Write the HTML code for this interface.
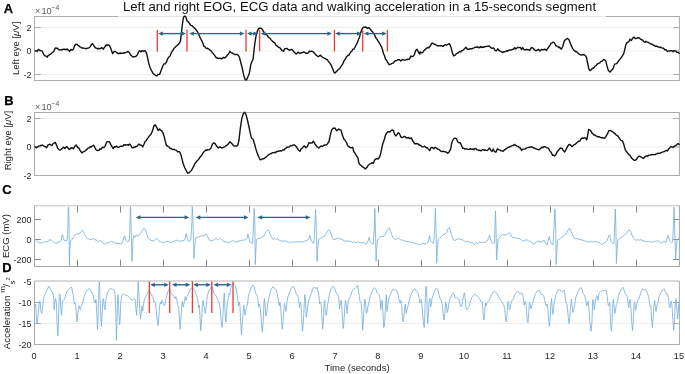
<!DOCTYPE html>
<html><head><meta charset="utf-8"><title>EOG ECG figure</title>
<style>html,body{margin:0;padding:0;background:#fff;}svg{display:block;}text{font-family:'Liberation Sans', Arial, sans-serif;}</style>
</head><body>
<svg width="685" height="374" viewBox="0 0 685 374" font-family="'Liberation Sans', Arial, sans-serif">
<rect width="685" height="374" fill="#fff"/>
<line x1="34.5" y1="27.5" x2="679.4" y2="27.5" stroke="#efefef" stroke-width="1"/>
<line x1="34.5" y1="51.0" x2="679.4" y2="51.0" stroke="#efefef" stroke-width="1"/>
<line x1="34.5" y1="74.5" x2="679.4" y2="74.5" stroke="#efefef" stroke-width="1"/>
<line x1="34.5" y1="27.5" x2="40.8" y2="27.5" stroke="#ababab" stroke-width="1"/>
<line x1="679.4" y1="27.5" x2="673.1" y2="27.5" stroke="#ababab" stroke-width="1"/>
<line x1="34.5" y1="51.0" x2="40.8" y2="51.0" stroke="#ababab" stroke-width="1"/>
<line x1="679.4" y1="51.0" x2="673.1" y2="51.0" stroke="#ababab" stroke-width="1"/>
<line x1="34.5" y1="74.5" x2="40.8" y2="74.5" stroke="#ababab" stroke-width="1"/>
<line x1="679.4" y1="74.5" x2="673.1" y2="74.5" stroke="#ababab" stroke-width="1"/>
<line x1="34.5" y1="16.0" x2="34.5" y2="81.0" stroke="#ababab" stroke-width="1"/>
<line x1="679.4" y1="16.0" x2="679.4" y2="81.0" stroke="#ababab" stroke-width="1"/>
<line x1="34.5" y1="80.5" x2="679.4" y2="80.5" stroke="#ababab" stroke-width="1"/>
<line x1="34.5" y1="16.5" x2="118" y2="16.5" stroke="#ababab" stroke-width="1"/>
<line x1="118" y1="16.5" x2="606" y2="16.5" stroke="#e4e4e4" stroke-width="1"/>
<line x1="606" y1="16.5" x2="679.4" y2="16.5" stroke="#ababab" stroke-width="1"/>
<text x="31.5" y="30.7" text-anchor="end" font-size="9" fill="#262626">2</text>
<text x="31.5" y="54.2" text-anchor="end" font-size="9" fill="#262626">0</text>
<text x="31.5" y="77.7" text-anchor="end" font-size="9" fill="#262626">-2</text>
<line x1="34.5" y1="118.5" x2="679.4" y2="118.5" stroke="#efefef" stroke-width="1"/>
<line x1="34.5" y1="147.0" x2="679.4" y2="147.0" stroke="#efefef" stroke-width="1"/>
<line x1="34.5" y1="118.5" x2="40.8" y2="118.5" stroke="#ababab" stroke-width="1"/>
<line x1="679.4" y1="118.5" x2="673.1" y2="118.5" stroke="#ababab" stroke-width="1"/>
<line x1="34.5" y1="147.0" x2="40.8" y2="147.0" stroke="#ababab" stroke-width="1"/>
<line x1="679.4" y1="147.0" x2="673.1" y2="147.0" stroke="#ababab" stroke-width="1"/>
<line x1="34.5" y1="112.0" x2="34.5" y2="176.0" stroke="#ababab" stroke-width="1"/>
<line x1="679.4" y1="112.0" x2="679.4" y2="176.0" stroke="#ababab" stroke-width="1"/>
<line x1="34.5" y1="175.5" x2="679.4" y2="175.5" stroke="#ababab" stroke-width="1"/>
<line x1="34.5" y1="112.5" x2="679.4" y2="112.5" stroke="#ababab" stroke-width="1"/>
<text x="31.5" y="121.7" text-anchor="end" font-size="9" fill="#262626">2</text>
<text x="31.5" y="150.2" text-anchor="end" font-size="9" fill="#262626">0</text>
<text x="31.5" y="178.7" text-anchor="end" font-size="9" fill="#262626">-2</text>
<line x1="34.5" y1="219.5" x2="40.8" y2="219.5" stroke="#888" stroke-width="1"/>
<line x1="679.4" y1="219.5" x2="673.1" y2="219.5" stroke="#888" stroke-width="1"/>
<line x1="34.5" y1="239.5" x2="40.8" y2="239.5" stroke="#888" stroke-width="1"/>
<line x1="679.4" y1="239.5" x2="673.1" y2="239.5" stroke="#888" stroke-width="1"/>
<line x1="34.5" y1="259.5" x2="40.8" y2="259.5" stroke="#888" stroke-width="1"/>
<line x1="679.4" y1="259.5" x2="673.1" y2="259.5" stroke="#888" stroke-width="1"/>
<line x1="77.5" y1="205.8" x2="77.5" y2="212.60000000000002" stroke="#888" stroke-width="1"/>
<line x1="77.5" y1="266.5" x2="77.5" y2="259.7" stroke="#888" stroke-width="1"/>
<line x1="120.5" y1="205.8" x2="120.5" y2="212.60000000000002" stroke="#888" stroke-width="1"/>
<line x1="120.5" y1="266.5" x2="120.5" y2="259.7" stroke="#888" stroke-width="1"/>
<line x1="163.5" y1="205.8" x2="163.5" y2="212.60000000000002" stroke="#888" stroke-width="1"/>
<line x1="163.5" y1="266.5" x2="163.5" y2="259.7" stroke="#888" stroke-width="1"/>
<line x1="206.5" y1="205.8" x2="206.5" y2="212.60000000000002" stroke="#888" stroke-width="1"/>
<line x1="206.5" y1="266.5" x2="206.5" y2="259.7" stroke="#888" stroke-width="1"/>
<line x1="249.5" y1="205.8" x2="249.5" y2="212.60000000000002" stroke="#888" stroke-width="1"/>
<line x1="249.5" y1="266.5" x2="249.5" y2="259.7" stroke="#888" stroke-width="1"/>
<line x1="292.5" y1="205.8" x2="292.5" y2="212.60000000000002" stroke="#888" stroke-width="1"/>
<line x1="292.5" y1="266.5" x2="292.5" y2="259.7" stroke="#888" stroke-width="1"/>
<line x1="335.5" y1="205.8" x2="335.5" y2="212.60000000000002" stroke="#888" stroke-width="1"/>
<line x1="335.5" y1="266.5" x2="335.5" y2="259.7" stroke="#888" stroke-width="1"/>
<line x1="378.5" y1="205.8" x2="378.5" y2="212.60000000000002" stroke="#888" stroke-width="1"/>
<line x1="378.5" y1="266.5" x2="378.5" y2="259.7" stroke="#888" stroke-width="1"/>
<line x1="421.5" y1="205.8" x2="421.5" y2="212.60000000000002" stroke="#888" stroke-width="1"/>
<line x1="421.5" y1="266.5" x2="421.5" y2="259.7" stroke="#888" stroke-width="1"/>
<line x1="464.5" y1="205.8" x2="464.5" y2="212.60000000000002" stroke="#888" stroke-width="1"/>
<line x1="464.5" y1="266.5" x2="464.5" y2="259.7" stroke="#888" stroke-width="1"/>
<line x1="507.5" y1="205.8" x2="507.5" y2="212.60000000000002" stroke="#888" stroke-width="1"/>
<line x1="507.5" y1="266.5" x2="507.5" y2="259.7" stroke="#888" stroke-width="1"/>
<line x1="550.5" y1="205.8" x2="550.5" y2="212.60000000000002" stroke="#888" stroke-width="1"/>
<line x1="550.5" y1="266.5" x2="550.5" y2="259.7" stroke="#888" stroke-width="1"/>
<line x1="593.5" y1="205.8" x2="593.5" y2="212.60000000000002" stroke="#888" stroke-width="1"/>
<line x1="593.5" y1="266.5" x2="593.5" y2="259.7" stroke="#888" stroke-width="1"/>
<line x1="636.5" y1="205.8" x2="636.5" y2="212.60000000000002" stroke="#888" stroke-width="1"/>
<line x1="636.5" y1="266.5" x2="636.5" y2="259.7" stroke="#888" stroke-width="1"/>
<line x1="34.5" y1="205.3" x2="34.5" y2="267.0" stroke="#a6a6a6" stroke-width="1"/>
<line x1="679.4" y1="205.3" x2="679.4" y2="267.0" stroke="#a6a6a6" stroke-width="1"/>
<line x1="34.5" y1="266.5" x2="679.4" y2="266.5" stroke="#a6a6a6" stroke-width="1"/>
<line x1="34.5" y1="205.8" x2="679.4" y2="205.8" stroke="#c4c4c4" stroke-width="1"/>
<text x="31.5" y="222.7" text-anchor="end" font-size="9" fill="#262626">200</text>
<text x="31.5" y="242.7" text-anchor="end" font-size="9" fill="#262626">0</text>
<text x="31.5" y="262.7" text-anchor="end" font-size="9" fill="#262626">-200</text>
<line x1="34.5" y1="302.5" x2="679.4" y2="302.5" stroke="#efefef" stroke-width="1"/>
<line x1="34.5" y1="323.5" x2="679.4" y2="323.5" stroke="#efefef" stroke-width="1"/>
<line x1="34.5" y1="302.5" x2="40.8" y2="302.5" stroke="#ababab" stroke-width="1"/>
<line x1="679.4" y1="302.5" x2="673.1" y2="302.5" stroke="#ababab" stroke-width="1"/>
<line x1="34.5" y1="323.5" x2="40.8" y2="323.5" stroke="#ababab" stroke-width="1"/>
<line x1="679.4" y1="323.5" x2="673.1" y2="323.5" stroke="#ababab" stroke-width="1"/>
<line x1="34.5" y1="281.0" x2="34.5" y2="345.0" stroke="#ababab" stroke-width="1"/>
<line x1="679.4" y1="281.0" x2="679.4" y2="345.0" stroke="#ababab" stroke-width="1"/>
<line x1="34.5" y1="344.5" x2="679.4" y2="344.5" stroke="#ababab" stroke-width="1"/>
<line x1="34.5" y1="281.0" x2="679.4" y2="281.0" stroke="#b4b4b4" stroke-width="1"/>
<text x="31.5" y="284.7" text-anchor="end" font-size="9" fill="#262626">-5</text>
<text x="31.5" y="305.7" text-anchor="end" font-size="9" fill="#262626">-10</text>
<text x="31.5" y="326.7" text-anchor="end" font-size="9" fill="#262626">-15</text>
<text x="31.5" y="347.7" text-anchor="end" font-size="9" fill="#262626">-20</text>
<text x="34.0" y="358.8" text-anchor="middle" font-size="9.2" fill="#262626">0</text>
<text x="77.0" y="358.8" text-anchor="middle" font-size="9.2" fill="#262626">1</text>
<text x="120.0" y="358.8" text-anchor="middle" font-size="9.2" fill="#262626">2</text>
<text x="163.0" y="358.8" text-anchor="middle" font-size="9.2" fill="#262626">3</text>
<text x="206.0" y="358.8" text-anchor="middle" font-size="9.2" fill="#262626">4</text>
<text x="249.0" y="358.8" text-anchor="middle" font-size="9.2" fill="#262626">5</text>
<text x="292.0" y="358.8" text-anchor="middle" font-size="9.2" fill="#262626">6</text>
<text x="335.0" y="358.8" text-anchor="middle" font-size="9.2" fill="#262626">7</text>
<text x="377.9" y="358.8" text-anchor="middle" font-size="9.2" fill="#262626">8</text>
<text x="420.9" y="358.8" text-anchor="middle" font-size="9.2" fill="#262626">9</text>
<text x="463.9" y="358.8" text-anchor="middle" font-size="9.2" fill="#262626">10</text>
<text x="506.9" y="358.8" text-anchor="middle" font-size="9.2" fill="#262626">11</text>
<text x="549.9" y="358.8" text-anchor="middle" font-size="9.2" fill="#262626">12</text>
<text x="592.9" y="358.8" text-anchor="middle" font-size="9.2" fill="#262626">13</text>
<text x="635.9" y="358.8" text-anchor="middle" font-size="9.2" fill="#262626">14</text>
<text x="678.9" y="358.8" text-anchor="middle" font-size="9.2" fill="#262626">15</text>
<text x="35.1" y="14.4" font-size="9.2" fill="#555">&#215;<tspan dx="0.9">10</tspan><tspan font-size="6.8" dy="-4.6">&#8722;4</tspan></text>
<text x="35.1" y="110.4" font-size="9.2" fill="#555">&#215;<tspan dx="0.9">10</tspan><tspan font-size="6.8" dy="-4.6">&#8722;4</tspan></text>
<g fill="none" stroke-linejoin="round" stroke-linecap="round">
<path d="M35.0,239.3 36.9,241.6 38.7,242.7 40.6,243.0 42.5,242.7 44.4,241.6 46.2,242.1 48.1,241.2 50.0,239.7 51.5,240.2 52.8,241.6 54.7,242.7 56.5,243.0 58.4,242.1 60.3,241.6 61.2,240.2 62.1,235.6 62.7,234.6 63.4,238.4 64.6,240.8 65.9,240.8 67.2,240.2 67.9,228.1 68.3,207.5 68.7,207.1 69.1,228.1 69.4,266.4 69.8,248.7 70.6,240.8 72.1,239.3 73.4,237.4 74.7,235.2 76.2,234.1 78.0,234.1 79.9,233.3 81.4,231.4 82.4,229.9 83.3,231.4 84.6,234.1 85.9,236.5 87.4,238.4 89.3,239.3 91.1,239.7 93.0,238.4 94.9,239.7 96.8,240.2 98.6,242.1 100.5,240.2 102.0,242.1 103.3,243.4 104.6,244.0 106.1,243.0 108.0,243.0 109.9,242.1 111.4,241.2 113.2,242.1 115.1,243.0 117.0,243.4 118.9,243.4 120.7,244.0 122.0,243.4 123.0,240.2 123.9,236.5 124.8,235.9 125.8,240.2 127.1,241.6 128.6,241.6 129.5,238.4 130.1,218.7 130.5,206.6 130.8,215.0 131.4,237.4 132.0,261.4 132.3,256.1 132.9,241.2 133.6,235.6 134.9,237.4 135.2,235.9 136.6,235.2 137.5,236.5 139.0,234.6 140.3,233.7 141.6,231.8 143.1,229.0 144.4,228.1 145.5,229.9 146.8,234.6 148.3,238.4 150.2,239.7 152.1,240.8 154.0,240.8 155.3,239.3 156.6,238.4 158.1,239.7 159.6,241.6 161.4,242.1 163.3,242.3 165.2,242.1 167.1,241.2 168.9,241.6 170.8,242.7 172.7,241.6 174.5,241.2 176.4,240.2 178.3,240.8 180.2,241.2 182.0,240.8 183.9,240.8 185.2,238.4 186.1,233.7 187.1,237.4 188.0,241.2 189.5,241.2 190.8,240.2 191.8,222.5 192.3,206.6 192.9,218.7 193.6,246.8 194.0,258.4 194.6,248.7 195.5,238.4 197.0,237.4 198.9,237.1 200.7,235.9 202.6,235.9 204.5,235.2 206.4,234.1 207.7,236.5 209.0,239.7 210.9,240.8 212.7,240.8 214.6,239.3 216.1,238.4 217.6,239.7 219.5,238.4 221.3,239.3 223.2,241.2 225.5,242.1 227.3,242.1 229.9,242.7 230.6,242.1 232.5,240.2 234.4,241.6 236.2,242.1 238.1,241.2 240.0,240.8 241.8,240.2 243.7,240.2 245.6,239.7 247.1,238.4 248.0,234.1 248.8,237.4 249.7,242.1 251.2,242.7 252.7,243.4 253.4,228.1 254.2,208.4 254.8,218.7 255.3,264.6 255.9,250.5 256.4,239.3 257.8,238.4 259.6,238.4 261.5,237.4 263.4,236.5 264.7,234.6 266.2,231.4 267.7,229.9 269.0,230.9 270.3,234.6 271.8,237.4 273.3,239.7 274.6,238.4 275.9,239.3 277.4,238.9 279.3,240.2 281.1,240.8 283.0,241.2 284.9,240.8 286.8,241.6 288.6,242.1 290.5,242.7 292.4,241.6 294.3,242.1 296.1,242.1 298.0,241.6 299.9,242.1 301.7,241.6 303.6,241.6 305.5,240.8 307.4,240.2 308.9,238.4 309.6,235.2 310.3,236.5 311.1,240.2 312.6,242.7 313.9,243.4 314.8,228.1 315.6,209.4 316.3,228.1 317.1,261.4 317.6,250.5 318.6,239.3 320.5,238.4 322.3,237.4 323.8,236.5 324.9,235.6 325.6,234.6 327.1,231.8 328.4,229.9 329.7,230.3 330.9,233.7 332.2,237.4 333.5,239.7 335.0,239.3 336.8,238.4 338.7,238.4 340.6,238.9 342.5,239.7 344.3,240.8 346.2,241.2 348.1,240.8 349.9,241.6 351.8,241.6 353.3,242.7 354.6,241.6 355.9,243.0 357.4,241.6 358.9,242.1 360.8,242.7 362.7,242.7 364.5,243.0 365.9,244.5 367.2,242.7 368.3,240.2 369.2,237.4 370.2,242.1 371.5,243.4 373.3,244.0 374.3,228.1 374.8,208.4 375.4,228.1 376.1,261.4 376.7,250.5 377.5,239.3 379.0,238.4 380.3,237.1 381.8,236.5 383.6,236.5 385.1,234.6 386.4,231.8 387.8,229.6 389.3,227.7 390.2,229.9 391.5,234.1 393.0,237.8 394.9,239.3 396.7,238.9 398.6,238.4 400.5,239.7 402.4,240.2 404.2,240.8 406.1,241.6 408.0,241.6 409.8,242.1 411.7,242.7 413.6,243.0 415.5,243.4 417.3,244.0 419.9,244.9 420.1,244.5 421.6,244.0 423.4,242.7 424.7,244.5 426.2,243.4 427.7,242.7 429.0,239.3 429.6,235.6 430.3,240.2 431.8,242.1 433.7,243.4 434.7,228.1 435.4,208.4 436.0,228.1 436.7,263.3 437.5,248.7 438.2,239.3 439.3,238.4 441.2,236.5 443.1,234.6 444.9,234.1 446.4,232.8 447.8,229.0 449.1,227.7 450.2,229.9 451.5,234.6 452.8,238.4 454.3,240.8 456.2,239.7 458.0,238.9 459.9,238.9 461.8,239.7 463.7,240.2 465.5,242.1 467.4,241.2 469.3,242.1 471.1,242.7 473.0,243.0 474.5,244.5 475.8,242.7 477.7,243.4 479.6,242.1 481.4,242.7 483.3,242.1 485.2,242.7 487.1,241.2 488.4,238.4 489.5,235.2 490.2,237.4 491.4,242.1 493.2,243.4 494.5,243.0 494.9,228.1 495.5,210.9 496.0,228.1 496.6,259.9 497.4,246.8 498.1,239.3 499.6,237.4 501.1,235.9 502.6,234.6 504.5,235.2 506.3,234.6 508.2,233.3 509.5,232.8 510.8,234.6 512.0,237.1 513.3,237.8 514.9,237.4 515.1,237.4 516.6,238.4 518.4,238.4 520.3,238.9 521.6,240.2 523.1,241.2 525.0,240.2 526.8,239.7 528.7,240.8 530.6,241.6 532.5,243.0 534.0,244.5 535.3,242.7 537.1,241.6 539.0,241.2 540.9,242.1 542.8,241.2 544.1,240.2 545.6,243.4 547.1,244.9 548.4,240.2 549.3,236.5 550.2,240.8 551.6,244.0 553.0,244.9 554.0,228.1 554.9,209.0 555.7,228.1 556.2,264.6 557.0,248.7 557.7,240.2 559.0,239.3 560.5,238.4 562.4,237.1 564.3,235.2 565.8,234.1 567.1,232.2 568.4,229.6 569.5,228.1 570.8,230.9 572.1,233.7 573.6,237.1 575.1,238.9 577.0,238.4 578.9,239.3 580.7,239.7 582.6,240.2 584.5,240.8 586.4,241.6 588.2,242.1 590.1,241.6 592.0,242.1 593.9,241.6 595.7,241.6 597.6,242.1 599.5,242.7 601.3,244.5 603.2,243.4 605.1,242.7 606.4,241.6 607.3,240.2 608.3,237.4 609.2,235.2 609.9,234.6 610.1,237.4 611.2,242.1 612.7,243.4 614.0,243.4 614.6,228.1 615.3,209.0 615.9,228.1 616.4,263.6 617.2,248.7 617.9,240.2 619.6,238.9 621.5,237.4 623.4,235.6 625.2,234.6 627.1,232.8 628.4,230.3 629.9,230.3 630.9,232.2 632.2,235.6 633.7,238.4 635.5,240.2 637.4,239.7 639.3,240.2 641.1,239.7 643.0,240.8 644.9,241.2 646.8,241.6 648.6,241.6 650.5,242.1 652.4,242.1 654.3,241.6 656.1,241.2 658.0,240.8 659.9,242.1 661.4,243.4 662.7,242.1 664.5,241.2 665.9,242.7 667.0,238.9 667.9,235.2 668.9,238.4 670.2,241.6 671.5,242.7 672.6,242.1 673.3,228.1 674.1,207.1 674.7,228.1 675.6,259.5 676.3,248.7 677.1,240.2 678.2,238.9 679.1,238.4" stroke="#78b1dc" stroke-width="0.85"/>
<path d="M35.0,305.9 35.6,304.1 36.1,309.7 36.5,320.9 37.2,323.7 37.8,319.0 38.4,311.6 39.1,304.1 39.7,301.3 40.2,303.1 41.0,311.6 41.7,313.4 42.5,308.8 43.4,298.5 44.7,294.7 46.2,291.9 47.7,288.2 49.0,286.3 50.0,288.7 51.5,291.3 52.8,292.8 53.7,298.5 54.3,309.7 54.8,302.2 55.6,298.5 56.5,304.1 57.1,322.8 57.8,335.9 58.6,317.2 59.3,293.8 60.1,294.7 60.8,309.7 61.6,315.3 62.3,302.2 63.1,300.3 64.6,299.4 65.9,293.8 67.2,291.0 68.7,289.1 70.2,287.6 71.5,287.2 72.4,291.0 73.4,296.6 74.3,304.1 75.2,303.1 75.8,306.9 76.6,317.2 77.1,321.9 78.0,311.6 79.0,305.9 80.3,309.7 81.4,305.9 82.7,303.1 84.0,296.6 85.5,292.8 87.4,290.0 88.9,288.7 90.2,290.0 91.5,291.9 93.0,294.7 94.5,302.2 95.3,303.1 96.0,299.4 96.8,313.4 97.5,329.3 98.1,317.2 98.6,294.7 99.4,281.6 100.1,298.5 100.9,319.0 101.4,326.5 102.0,317.2 102.8,300.3 103.5,298.5 104.3,307.8 105.0,309.7 105.7,301.3 106.5,296.6 107.6,292.8 108.9,290.0 110.2,288.7 111.7,289.1 113.2,289.5 114.5,291.0 115.1,294.7 115.9,313.4 116.4,340.6 117.0,322.8 117.5,298.5 118.1,294.7 118.9,313.4 119.6,324.7 120.2,319.0 120.7,304.1 121.5,296.6 122.6,294.7 123.3,293.8 124.5,294.7 125.8,295.1 127.1,295.7 128.6,296.6 130.1,298.1 131.4,300.0 132.3,300.7 133.3,299.4 134.2,298.5 134.9,298.8 135.2,300.3 136.0,309.7 136.7,315.3 137.5,298.5 138.2,281.6 139.0,294.7 139.7,309.7 140.5,319.0 141.2,313.4 142.0,305.9 142.7,310.6 143.5,304.1 144.6,298.5 145.9,296.6 147.2,293.8 148.7,291.0 150.2,291.9 151.5,294.7 152.8,296.6 154.0,302.2 154.7,301.3 155.5,303.1 156.2,309.7 157.1,319.0 158.1,325.6 158.8,317.2 159.6,305.9 160.3,302.2 161.1,304.1 161.8,300.3 162.8,302.2 163.7,304.1 164.6,305.9 165.6,301.3 166.5,296.6 167.4,292.8 168.6,290.0 169.3,289.1 170.2,290.6 171.2,293.8 172.7,294.7 174.0,296.6 174.9,298.5 175.9,296.6 176.8,300.3 177.7,304.1 178.7,307.8 179.6,322.8 180.2,329.3 180.9,319.0 181.7,305.9 182.4,301.3 183.3,306.9 184.3,302.2 185.2,296.6 186.1,300.3 187.1,296.6 188.4,293.8 189.9,290.0 191.4,288.2 192.7,288.7 194.0,289.1 195.1,291.0 195.9,293.8 197.0,296.6 197.8,300.3 198.5,307.8 199.3,305.0 200.0,317.2 200.7,330.7 201.5,320.9 202.2,307.8 203.0,300.3 203.7,305.0 204.5,307.8 205.2,313.4 206.0,309.7 206.7,300.3 207.7,294.7 208.6,291.0 210.1,289.1 211.4,286.3 212.4,287.2 213.3,291.0 214.2,293.8 215.3,294.7 216.5,296.6 217.6,300.3 218.9,302.2 219.8,305.9 220.6,313.4 221.3,322.8 222.1,327.5 222.8,317.2 223.6,302.2 224.3,292.8 225.1,313.4 225.8,321.9 226.6,313.4 227.3,302.2 228.3,298.5 229.2,293.8 229.9,294.7 230.6,288.2 231.6,285.4 232.5,283.9 234.0,284.4 235.3,285.7 236.6,291.0 237.7,298.5 238.5,305.9 239.2,302.2 240.0,305.9 240.7,322.8 241.5,335.0 242.2,324.7 243.0,313.4 243.7,305.0 244.5,311.6 245.2,315.3 246.0,309.7 246.7,306.9 247.5,304.1 248.4,296.6 249.3,292.8 250.3,290.0 251.6,287.2 252.7,285.0 254.0,286.3 254.9,290.0 255.9,293.8 256.8,294.7 257.8,297.5 258.7,306.9 259.4,304.1 260.2,307.8 260.9,315.3 261.7,326.5 262.4,332.1 263.2,320.9 263.9,304.1 264.5,298.5 265.1,305.9 265.8,316.2 266.6,313.4 267.3,307.8 268.0,302.2 269.2,296.6 270.3,291.9 271.4,289.1 272.7,286.9 274.0,287.6 275.2,289.5 276.5,290.0 277.4,294.7 278.3,300.3 279.3,305.9 280.0,302.2 280.8,308.8 281.5,320.0 282.3,329.3 283.0,322.8 283.8,309.7 284.5,303.1 285.3,307.8 286.0,311.6 286.8,304.1 287.7,297.5 288.6,294.7 290.1,291.0 291.4,288.2 292.8,286.3 293.9,286.9 295.0,290.0 296.1,293.8 297.2,294.7 298.4,297.5 299.5,307.8 300.2,302.2 301.0,304.1 301.7,320.0 302.5,331.2 303.2,324.7 304.0,309.7 304.7,294.7 305.5,298.5 306.2,317.2 307.0,313.4 307.7,305.9 308.9,300.3 310.2,296.6 311.5,292.8 313.0,288.2 314.5,287.2 315.8,288.7 317.1,287.2 318.2,291.9 319.0,296.6 319.7,304.1 320.5,302.2 321.2,304.1 322.0,319.0 322.7,329.3 323.4,320.9 324.2,302.2 324.9,300.3 325.2,309.7 326.0,315.3 326.7,313.4 327.5,305.9 328.4,300.3 329.4,294.7 330.5,290.0 331.6,287.6 332.7,286.3 334.0,287.2 335.3,290.0 336.5,293.8 337.8,294.7 338.7,296.6 339.5,308.8 340.2,304.1 341.0,300.3 341.7,305.9 342.5,319.0 343.2,328.4 344.0,320.9 344.7,307.8 345.5,300.3 346.2,304.1 347.0,313.4 347.7,305.9 348.4,299.4 349.6,298.5 350.9,294.7 352.2,291.0 353.7,289.1 355.2,288.2 356.5,286.9 357.4,285.4 358.4,290.0 359.3,296.6 360.2,302.2 361.2,303.1 361.9,313.4 362.7,330.3 363.4,319.0 364.2,307.8 364.9,299.4 365.7,304.1 366.4,313.4 367.2,311.6 367.9,306.9 369.0,302.2 370.2,295.7 371.5,292.8 372.8,290.0 374.3,287.6 375.8,289.1 377.1,292.8 378.4,293.8 379.5,294.7 380.3,302.2 380.8,309.7 381.4,304.1 382.1,300.3 382.9,311.6 383.6,327.5 384.4,326.5 385.1,313.4 385.9,298.5 386.4,294.7 387.0,311.6 387.8,305.9 388.9,298.5 390.2,294.7 391.5,291.9 393.0,289.1 394.5,290.0 395.8,289.5 397.1,291.0 398.2,294.7 399.0,299.4 400.1,303.1 400.9,300.3 401.6,305.9 402.4,316.2 403.1,321.9 403.9,316.2 404.6,309.7 405.3,304.1 406.1,313.4 406.8,310.6 408.0,305.9 409.5,299.4 410.8,294.7 412.1,291.9 413.6,289.5 414.9,288.7 415.8,290.6 417.3,291.9 418.4,293.8 419.2,298.5 419.9,303.1 420.1,300.3 421.0,299.4 421.7,302.2 422.5,313.4 423.4,321.9 424.2,327.5 424.7,317.2 425.3,298.5 425.9,286.3 426.6,287.2 427.2,313.4 427.7,323.7 428.5,313.4 429.2,300.3 430.0,298.5 430.7,306.9 431.5,302.2 432.2,297.5 433.3,294.7 434.5,291.0 435.6,288.7 436.7,288.2 437.8,290.0 439.0,294.7 440.1,298.5 441.2,300.3 442.1,304.1 443.1,313.4 444.0,320.0 444.9,313.4 445.7,302.2 446.4,304.1 447.2,312.5 447.9,310.6 448.7,304.1 449.8,299.4 450.9,297.0 452.1,294.7 453.4,292.8 454.3,294.7 455.2,298.1 456.6,297.5 457.7,298.5 459.0,299.4 459.9,304.1 460.9,306.9 461.8,305.9 462.7,300.3 463.7,294.7 464.4,292.8 465.2,298.5 465.9,306.9 466.7,309.7 467.8,307.8 468.9,306.9 470.0,302.2 471.1,299.4 472.3,296.6 473.4,295.7 474.5,294.3 475.8,294.7 477.1,295.7 478.6,297.5 480.1,299.4 481.4,302.2 482.4,302.2 483.1,313.4 483.9,320.0 484.6,313.4 485.4,303.1 486.1,305.9 487.2,302.2 488.4,301.3 489.5,299.4 490.8,296.6 492.1,293.8 493.2,291.9 494.5,291.0 495.9,292.5 497.0,293.8 498.3,296.6 499.6,298.5 501.1,300.3 502.6,303.1 503.9,305.0 504.8,309.7 505.6,319.0 506.3,321.9 507.1,313.4 507.8,302.2 508.6,301.3 509.3,309.7 510.1,308.8 510.8,304.1 512.0,300.3 513.3,299.4 514.9,294.7 516.0,292.8 517.5,291.0 519.0,292.8 520.3,293.8 521.6,292.8 522.7,294.7 523.5,300.3 524.2,305.0 525.0,302.2 525.7,301.3 526.5,309.7 527.2,320.9 528.0,322.8 528.7,313.4 529.5,302.2 530.2,304.1 531.0,308.8 531.7,305.9 532.5,304.1 533.4,300.3 534.3,296.6 535.5,293.8 536.6,291.9 538.1,290.6 539.2,290.0 540.3,291.9 541.4,294.7 542.8,294.7 543.7,295.7 544.6,299.4 545.6,305.0 546.3,305.9 547.1,304.1 547.8,309.7 548.6,319.0 549.3,326.2 550.1,319.0 550.8,304.1 551.6,298.5 552.3,309.7 553.0,314.4 553.8,305.9 554.9,299.4 556.0,294.7 557.2,291.9 558.3,290.0 559.6,289.5 560.9,291.0 562.4,291.9 563.9,290.0 564.7,292.8 565.4,298.5 566.1,303.1 566.9,304.1 567.6,309.7 568.4,319.0 569.1,323.7 569.9,316.2 570.6,305.9 571.4,299.4 572.1,305.9 572.9,312.5 573.6,309.7 574.6,305.9 575.5,298.5 576.6,294.7 577.8,291.9 578.9,290.0 580.2,288.2 581.1,287.6 582.1,289.5 583.0,293.8 583.9,294.7 584.9,296.6 585.8,299.4 586.7,305.9 587.5,304.1 588.2,301.3 589.0,308.8 589.7,320.9 590.5,327.5 591.2,331.2 592.0,320.9 592.7,299.4 593.5,300.3 594.2,309.7 595.0,304.1 595.7,298.5 596.5,295.7 597.2,296.6 598.0,300.3 598.7,294.7 599.8,292.5 601.3,291.0 602.6,290.0 604.0,290.6 605.5,290.0 606.4,291.9 607.3,296.6 608.1,305.0 608.8,305.9 609.9,302.2 610.1,311.6 610.8,324.7 611.4,331.2 612.0,322.8 612.7,305.9 613.4,299.4 614.2,307.8 614.9,313.4 615.7,308.8 616.4,304.1 617.2,303.1 617.9,299.4 618.7,294.7 619.8,291.9 620.9,290.0 622.1,288.2 623.0,287.2 623.9,289.5 625.1,293.8 626.2,294.7 627.3,296.6 628.0,304.1 628.8,307.8 629.5,300.3 630.3,299.4 631.0,309.7 631.8,322.8 632.5,330.7 633.3,320.9 634.0,304.1 634.8,302.2 635.5,310.6 636.3,306.9 637.4,300.3 638.5,299.4 639.7,296.6 640.8,292.8 641.9,290.0 643.0,288.7 644.1,290.0 645.3,289.5 646.4,291.0 647.5,293.8 648.6,296.6 649.4,302.2 650.1,306.9 650.9,305.9 651.6,319.0 652.4,327.5 653.1,319.0 653.9,305.9 654.6,300.3 655.4,308.8 656.1,311.6 656.9,305.9 658.0,302.2 659.1,296.6 660.2,293.8 661.4,291.9 662.7,290.0 664.0,288.7 665.1,291.0 666.2,293.8 667.4,293.8 668.5,297.5 669.2,306.9 670.0,307.8 670.7,302.2 671.5,301.3 672.2,308.8 673.0,321.9 673.7,330.3 674.5,320.9 675.2,304.1 676.0,298.5 676.7,305.9 677.5,319.0 678.2,311.6 679.1,302.2" stroke="#78b1dc" stroke-width="0.85"/>
<path d="M35.0,50.9 35.9,50.9 36.9,51.5 38.4,49.4 39.5,50.1 40.6,50.6 42.1,51.0 43.4,53.8 44.4,55.5 45.3,55.9 46.2,56.1 47.2,57.2 48.1,55.7 49.0,55.1 50.0,54.3 50.9,53.9 51.8,53.0 52.8,52.3 53.7,51.4 54.7,49.4 55.6,47.9 56.5,48.3 57.5,48.2 58.4,49.5 59.3,50.0 60.3,49.8 61.2,49.7 62.1,50.0 63.1,49.2 64.0,49.2 64.9,49.2 65.9,49.8 67.2,48.9 68.7,50.4 69.6,51.4 70.9,49.5 72.4,50.0 73.4,49.2 74.7,45.4 76.2,44.1 77.1,44.4 78.0,45.3 79.0,45.8 79.9,46.9 80.9,47.2 81.8,48.1 82.7,48.0 83.7,48.1 84.6,48.4 85.5,48.5 86.5,48.7 87.4,48.2 88.3,48.1 89.3,47.7 90.2,46.6 91.1,45.1 92.5,43.6 94.0,45.8 94.9,47.0 95.8,48.1 96.8,48.3 97.7,49.0 98.6,48.3 99.6,48.8 100.5,48.3 101.4,47.8 102.4,48.0 103.3,49.2 104.6,47.2 106.1,45.0 107.1,45.5 108.0,44.8 109.5,45.5 110.8,48.4 111.7,51.2 112.7,53.7 113.6,51.9 114.5,51.5 115.5,51.4 116.4,52.6 117.4,52.7 118.3,53.7 119.2,53.6 120.2,52.9 121.1,53.6 122.0,53.1 123.0,52.9 123.9,53.4 124.8,52.6 125.8,52.6 126.7,52.1 127.6,51.5 128.6,52.0 129.5,52.8 130.5,54.8 131.4,55.4 132.3,56.6 133.3,57.1 134.1,56.6 134.9,56.6 135.2,56.7 136.2,56.1 137.1,55.3 138.4,52.4 139.7,50.6 140.9,51.9 142.2,50.5 143.5,51.4 145.0,50.7 146.5,53.0 147.8,58.7 148.7,63.1 149.7,66.4 150.6,68.8 151.5,70.6 152.5,72.4 153.4,74.0 154.3,74.1 155.3,75.3 156.6,75.9 158.1,74.4 159.6,74.4 160.9,71.1 162.2,67.5 163.7,64.0 165.2,63.8 166.5,62.0 167.4,59.4 168.4,57.5 169.3,56.8 170.2,55.6 171.2,53.1 172.1,51.4 173.0,50.1 174.0,48.4 174.9,47.6 175.9,46.6 176.8,45.7 177.7,45.0 178.7,43.7 179.6,42.9 180.5,40.5 181.5,32.2 182.4,24.4 183.3,18.0 184.3,16.1 185.6,16.5 187.1,20.9 188.0,21.5 189.0,22.7 189.9,24.0 190.8,25.4 191.8,25.6 192.7,26.5 193.6,27.2 194.6,28.4 195.5,28.9 196.4,30.3 197.4,31.5 198.3,33.5 199.3,35.7 200.2,37.8 201.1,39.5 202.1,41.4 203.0,43.6 203.9,46.2 204.9,46.6 205.8,48.0 206.7,48.5 207.7,48.3 208.6,48.9 209.5,49.9 210.9,50.6 212.4,52.7 213.3,53.6 214.2,54.8 215.2,56.1 216.1,57.7 217.0,57.8 218.0,58.4 218.9,58.4 219.8,58.3 220.8,58.4 221.7,59.0 222.6,57.9 223.6,57.5 224.5,58.0 225.5,57.4 226.4,56.6 227.3,55.1 228.3,54.2 229.2,52.8 229.9,51.2 230.2,52.2 231.2,52.7 232.1,52.9 233.4,53.9 234.4,54.1 235.3,54.6 236.2,54.5 237.2,54.4 238.5,55.6 239.6,57.8 240.9,63.0 242.2,67.8 243.7,75.2 245.2,79.7 246.5,79.9 247.8,77.1 249.3,73.4 250.8,64.6 252.1,61.2 253.1,59.2 254.0,50.2 254.9,42.8 255.9,36.6 257.2,31.8 258.3,28.9 259.6,28.1 260.6,28.2 261.5,28.4 262.4,29.7 263.4,31.6 264.3,32.4 265.2,33.9 266.2,34.4 267.1,35.2 268.0,36.5 269.0,37.7 269.9,38.0 270.9,39.6 271.8,40.6 272.7,41.4 273.7,42.4 274.6,42.5 275.5,44.4 276.5,45.8 277.4,45.9 278.3,47.1 279.3,47.5 280.2,48.1 281.1,49.2 282.1,50.5 283.4,51.3 284.9,48.7 285.8,48.6 286.8,48.4 287.7,49.1 288.6,49.7 289.6,50.3 290.5,49.9 291.4,49.3 292.4,49.9 293.3,51.0 294.3,52.2 295.2,53.0 296.1,54.0 297.1,53.2 298.0,52.2 298.9,52.7 299.9,53.5 300.8,52.8 301.7,52.8 302.7,52.6 303.6,51.9 304.5,52.2 305.5,53.0 306.4,53.2 307.4,53.4 308.3,52.7 309.2,51.3 310.2,51.5 311.1,51.2 312.0,51.4 313.0,51.7 314.5,53.3 315.6,54.6 316.7,55.5 317.6,56.3 318.6,56.6 319.5,55.7 320.5,55.2 321.4,56.5 322.3,57.0 323.6,57.8 324.9,58.3 325.6,58.9 326.6,59.6 327.5,59.7 328.4,61.5 329.4,62.6 330.3,63.6 331.2,65.4 332.7,68.8 334.0,72.3 335.0,73.1 336.5,71.5 337.8,70.1 338.7,69.2 339.7,68.5 340.6,67.2 341.5,65.6 342.5,64.4 343.4,62.2 344.3,60.4 345.3,59.2 346.2,57.3 347.1,56.3 348.1,55.3 349.0,55.2 349.9,53.3 350.9,51.9 351.8,51.3 352.8,49.2 354.1,49.0 355.6,46.0 356.5,44.3 357.4,42.5 358.4,39.8 359.3,37.7 360.8,32.3 362.1,28.9 363.4,27.1 364.9,27.3 365.9,27.0 366.8,27.9 367.7,28.3 368.7,27.6 369.6,28.5 370.5,29.4 371.5,30.9 372.4,31.5 373.3,32.9 374.3,34.3 375.2,36.4 376.1,38.2 377.1,39.4 378.0,41.0 379.0,42.4 379.9,43.8 380.8,45.7 381.8,47.3 382.7,50.5 383.6,53.8 384.6,56.0 385.5,59.2 386.4,60.0 387.4,61.9 388.3,63.4 389.3,64.7 390.7,64.2 391.7,63.6 392.6,63.2 393.6,62.8 394.5,61.4 395.4,60.7 396.4,60.7 397.7,59.7 398.6,59.6 399.5,59.8 400.9,61.0 402.4,59.5 403.3,59.9 404.2,60.1 405.2,60.2 406.1,59.7 407.0,59.3 408.0,59.5 409.5,59.0 410.8,55.9 411.7,56.6 412.6,56.6 413.6,55.8 414.5,54.3 415.8,50.3 417.0,49.3 418.3,51.9 419.1,53.3 419.9,54.1 420.1,52.0 421.1,52.5 422.1,52.8 423.4,51.7 424.4,50.0 425.3,49.7 426.2,48.4 427.2,47.8 428.1,47.5 429.0,47.7 430.3,45.8 431.8,43.1 432.8,43.3 433.7,43.8 434.7,44.4 435.6,44.4 436.5,45.2 437.5,45.9 438.4,45.8 439.3,45.9 440.3,45.6 441.2,45.7 442.1,45.8 443.1,46.3 444.0,45.7 444.9,44.6 445.9,44.9 446.8,45.2 448.3,44.0 449.6,43.8 450.9,47.1 452.4,52.8 453.7,55.9 455.2,55.2 456.2,53.9 457.1,53.2 458.0,53.1 459.0,52.0 459.9,51.5 460.9,51.8 461.8,50.8 462.7,50.4 463.7,49.6 464.6,48.8 465.9,47.2 467.4,49.4 468.3,49.3 469.3,49.2 470.2,48.6 471.1,48.7 472.1,48.9 473.0,48.1 474.0,48.0 474.9,47.3 475.8,47.2 476.8,47.3 477.7,46.8 478.6,47.7 479.6,47.5 480.5,46.5 481.4,47.5 482.4,47.0 483.3,47.2 484.3,47.0 485.2,46.4 486.1,46.6 487.1,46.3 488.0,46.1 488.9,45.9 489.9,46.6 490.8,47.7 491.7,48.2 492.7,48.2 493.6,47.9 495.1,50.5 496.4,50.9 497.7,48.8 499.2,50.7 500.2,51.2 501.1,51.5 502.0,52.2 503.0,52.5 503.9,51.6 504.8,51.8 505.8,51.4 506.7,50.7 507.6,51.2 508.6,50.1 509.5,50.0 510.5,50.2 511.4,49.8 512.3,49.6 513.6,48.8 514.9,47.6 515.1,49.0 516.6,48.3 517.5,47.5 518.4,47.5 519.4,47.6 520.3,47.4 521.6,49.4 522.7,47.5 524.0,49.7 525.0,49.6 525.9,49.9 526.8,49.3 527.8,49.9 528.7,49.8 529.7,50.4 530.6,48.8 531.5,47.5 532.5,47.9 533.4,48.3 534.3,49.6 535.3,50.4 536.2,50.8 537.1,50.1 538.4,49.3 539.9,51.0 541.4,49.5 542.8,49.8 543.7,49.8 544.6,49.2 545.6,49.7 546.5,50.4 547.4,48.9 548.4,47.5 549.3,46.1 550.2,44.8 551.2,43.2 552.1,42.9 553.0,42.1 554.5,43.0 555.9,45.9 556.8,46.0 557.7,46.5 558.7,47.5 559.6,47.2 560.5,48.5 561.5,49.0 562.8,46.3 564.3,41.0 565.8,39.3 566.7,38.9 567.6,38.5 569.0,39.7 570.3,43.2 571.8,46.6 572.7,48.7 573.6,49.9 574.6,50.8 575.5,51.7 576.4,51.4 577.4,52.6 578.3,53.5 579.3,54.2 580.2,54.7 581.1,55.1 582.1,54.7 583.0,54.8 583.9,54.5 584.9,55.2 586.4,57.2 587.7,63.5 589.0,69.3 590.1,70.6 591.4,69.6 592.4,68.2 593.3,68.2 594.2,67.3 595.2,66.0 596.1,65.5 597.0,64.6 598.0,63.6 598.9,63.1 599.8,62.8 600.8,61.6 601.7,61.4 602.6,60.6 603.6,59.5 604.5,59.7 605.8,60.9 607.0,65.9 608.3,70.4 609.1,71.3 609.9,71.9 610.1,72.0 611.6,70.2 613.1,68.6 614.6,64.1 615.9,63.9 617.2,63.0 618.7,60.8 619.6,59.6 620.6,58.5 621.5,57.2 622.4,55.8 623.7,53.7 624.7,49.8 625.8,44.9 627.1,42.4 628.0,42.2 629.0,41.5 629.9,39.2 631.4,40.5 632.7,38.2 634.0,37.1 635.5,38.7 636.5,38.4 637.4,37.8 638.3,37.8 639.3,38.0 640.8,39.4 642.1,39.9 643.0,40.6 644.0,41.8 644.9,42.2 645.8,41.3 646.8,42.0 647.7,42.1 648.6,42.7 649.6,43.2 650.5,43.9 651.4,44.0 652.4,44.4 653.3,45.1 654.3,45.5 655.2,46.2 656.1,46.0 657.1,46.3 658.0,46.9 658.9,47.0 659.9,47.6 660.8,47.2 661.7,47.9 662.7,48.1 663.6,48.2 664.5,49.7 665.5,49.6 666.4,50.1 667.4,51.4 668.3,50.9 669.2,51.2 670.2,50.9 671.1,50.7 672.0,50.8 673.0,51.7 673.9,50.7 674.8,50.8 675.8,51.1 676.7,52.2 677.9,52.4 679.1,53.3" stroke="#111" stroke-width="1.4"/>
<path d="M35.0,146.9 36.5,147.8 37.8,146.6 38.7,146.2 39.7,145.9 40.6,145.5 41.6,145.5 42.5,145.0 43.4,145.8 44.4,146.5 45.3,146.5 46.6,147.7 48.1,144.7 49.0,144.7 50.0,144.2 50.9,145.0 51.8,145.5 52.8,144.0 53.7,143.3 55.2,142.4 56.5,144.9 57.8,148.5 59.3,149.8 60.3,150.1 61.2,149.2 62.1,148.7 63.1,147.3 64.0,147.5 64.9,148.6 66.4,146.6 67.8,147.6 68.7,149.0 69.6,149.5 70.9,148.0 72.1,147.8 73.4,148.8 74.7,146.5 76.2,145.1 77.7,147.4 79.0,148.4 80.3,150.6 81.8,152.9 83.3,151.8 84.6,151.3 85.5,150.4 86.5,149.8 87.4,148.7 88.3,148.0 89.3,147.9 90.2,146.8 91.1,147.0 92.1,146.2 93.4,145.2 94.5,146.7 95.8,149.5 97.1,150.5 98.1,150.4 99.0,150.3 99.9,149.0 100.9,149.3 102.4,147.2 103.9,147.6 105.2,145.8 106.7,142.1 108.0,141.6 109.5,141.9 110.8,144.6 112.1,146.8 113.2,148.7 114.5,146.6 115.5,147.1 116.4,146.1 117.4,146.9 118.3,147.4 119.2,147.1 120.2,146.2 121.1,146.2 122.0,146.4 123.0,146.0 123.9,144.7 124.8,145.0 125.8,144.8 126.7,145.1 127.6,144.6 128.6,145.2 129.5,144.1 130.8,145.3 132.0,147.8 132.9,147.9 133.8,147.1 134.9,147.4 135.2,147.0 136.2,146.5 137.1,146.2 138.0,145.1 139.0,144.1 140.3,145.1 141.6,145.2 142.7,146.9 144.0,144.2 145.3,141.2 146.3,140.8 147.2,138.9 148.2,137.6 149.1,136.2 150.0,135.2 151.0,134.2 152.5,130.8 154.0,125.7 155.3,124.8 156.6,127.1 158.1,130.4 159.6,129.0 160.9,130.4 161.8,130.8 162.8,132.6 164.1,136.2 165.2,140.9 166.5,145.7 167.4,145.8 168.4,146.9 169.3,147.2 170.2,148.6 171.2,148.5 172.1,149.1 173.0,149.5 174.0,149.2 174.9,149.9 175.9,150.1 176.8,150.8 177.7,151.7 178.7,151.7 179.6,151.8 180.9,154.7 182.0,159.1 183.3,164.0 184.8,168.0 186.1,170.2 187.6,173.3 188.6,172.9 189.5,172.4 190.5,171.2 191.4,170.5 192.7,168.2 193.6,166.4 194.6,164.0 195.5,163.0 196.4,161.6 197.4,160.6 198.3,159.6 199.3,158.5 200.2,156.9 201.1,156.1 202.1,154.6 203.0,153.1 203.9,151.7 204.9,151.0 205.8,149.9 206.7,150.3 207.7,149.7 208.6,149.9 209.5,149.6 210.9,148.3 212.4,144.2 213.9,142.8 215.3,143.9 216.2,145.5 217.0,146.5 218.3,148.0 219.8,146.8 220.8,147.4 221.7,147.9 222.6,147.8 223.6,147.2 224.5,146.9 225.5,146.2 226.4,145.3 227.3,145.0 228.6,143.6 229.9,141.7 231.0,142.7 232.5,144.2 233.4,145.5 234.4,146.2 235.3,145.9 236.2,146.2 237.7,145.7 239.0,140.0 240.3,128.3 241.8,118.6 243.3,113.7 244.7,112.3 246.0,114.5 247.5,120.3 249.0,127.0 250.3,133.4 251.6,138.2 253.1,139.3 254.6,144.2 255.9,149.1 257.2,153.1 258.7,156.8 260.2,159.7 261.5,159.6 262.4,158.7 263.4,158.9 264.3,158.3 265.2,157.7 266.2,156.9 267.1,156.1 268.0,155.2 269.0,154.5 269.9,153.9 270.9,153.8 271.8,153.1 272.7,152.7 273.7,152.6 274.6,152.3 275.5,152.7 276.5,151.5 277.4,151.6 278.3,151.2 279.3,151.1 280.2,150.7 281.1,151.2 282.1,150.5 283.0,149.9 284.0,150.2 284.9,148.8 285.8,148.3 286.8,147.4 287.7,147.0 288.6,147.1 289.6,146.7 290.5,145.8 291.4,145.7 292.4,145.4 293.3,144.9 294.3,144.9 295.2,145.5 296.1,146.4 297.1,147.8 298.4,150.0 299.9,151.2 301.4,148.7 302.7,147.7 303.6,146.3 304.5,146.0 305.9,147.7 307.4,146.5 308.9,142.8 309.8,143.0 310.7,143.0 312.0,143.1 313.3,141.2 314.8,143.7 315.8,144.9 316.7,146.8 317.6,146.9 318.6,148.1 319.5,147.4 320.5,146.5 321.4,145.9 322.3,146.5 323.6,145.5 324.9,145.0 325.6,144.9 326.6,144.8 327.5,143.6 329.0,141.5 330.3,135.1 331.6,130.1 333.1,128.3 334.0,128.2 335.0,128.0 336.5,130.7 337.8,129.9 338.7,129.0 339.7,129.6 341.0,130.2 342.5,135.6 344.0,139.2 344.9,140.0 345.8,141.5 346.8,143.2 347.7,145.9 348.6,146.2 349.6,147.4 350.5,147.5 351.4,147.8 352.8,147.4 353.7,151.3 355.2,153.5 356.5,156.0 357.8,157.4 358.9,163.2 360.2,164.9 361.2,165.5 362.1,166.4 363.0,167.1 364.0,167.8 365.3,169.1 366.8,167.6 368.3,165.2 369.2,164.5 370.2,163.7 371.1,163.4 372.0,162.7 373.3,163.3 374.7,159.9 376.1,158.8 377.1,158.6 378.0,159.0 379.5,157.2 380.8,153.1 381.8,148.2 382.7,144.0 384.0,140.6 385.5,135.0 387.0,132.7 387.9,131.8 388.9,131.8 389.8,132.0 390.7,131.0 392.1,129.9 393.4,130.7 394.5,134.1 395.8,135.9 397.1,134.5 398.2,132.7 399.5,133.8 400.9,137.0 402.4,137.6 403.3,137.0 404.2,136.3 405.2,136.7 406.1,137.7 407.0,138.1 408.0,137.5 408.9,137.9 409.8,138.6 411.3,137.9 412.6,140.9 413.6,141.7 414.5,143.8 415.5,143.8 416.4,143.5 417.3,143.9 418.3,144.0 419.1,145.1 419.9,144.8 420.1,145.2 421.6,146.4 422.5,146.9 423.4,146.9 424.7,146.2 426.2,147.7 427.2,147.7 428.1,148.9 429.6,150.6 430.9,147.9 432.2,147.4 433.7,148.7 435.2,147.3 436.5,148.1 437.8,149.1 439.3,149.7 440.3,150.7 441.2,151.3 442.1,151.6 443.1,151.1 444.0,151.6 444.9,151.8 446.4,152.1 447.8,153.3 449.1,151.9 450.6,149.1 451.5,144.1 452.4,141.0 453.9,138.5 455.2,138.1 456.6,138.9 457.7,141.7 459.0,142.7 460.3,142.7 461.4,145.2 462.7,148.3 463.7,148.3 464.6,149.1 465.5,149.0 466.5,148.8 467.4,149.1 468.3,149.4 469.3,149.4 470.2,148.5 471.1,149.2 472.1,149.3 473.0,148.9 474.0,149.7 474.9,148.8 475.8,148.4 476.8,149.6 477.7,149.9 478.6,150.5 479.6,150.1 480.9,150.9 482.4,149.8 483.3,149.4 484.3,150.3 485.2,149.9 486.1,150.3 487.1,150.6 488.0,149.7 489.5,148.0 490.8,150.3 492.1,151.5 493.2,149.0 494.5,151.7 495.9,152.2 497.4,148.9 498.3,149.3 499.2,149.8 500.2,150.2 501.1,150.8 502.0,150.9 503.0,151.3 504.5,149.7 505.4,149.5 506.3,148.4 507.3,148.1 508.2,147.2 509.3,147.2 510.5,146.4 511.4,146.0 512.3,145.5 513.6,145.2 514.9,144.4 515.1,145.0 516.6,145.9 517.5,146.4 518.4,146.5 519.4,147.7 520.3,147.7 521.6,150.4 522.7,149.1 524.0,149.1 525.0,149.1 525.9,148.4 526.8,147.9 527.8,147.6 528.7,147.3 529.7,147.3 530.6,147.0 531.5,146.8 532.5,147.2 533.4,148.1 534.3,147.9 535.3,148.6 536.2,149.0 537.1,149.2 538.1,149.6 539.0,149.8 540.3,148.8 541.8,147.2 542.8,147.7 543.7,146.8 545.2,146.8 546.5,147.5 547.4,147.9 548.4,148.2 549.7,150.6 551.2,152.5 552.7,155.3 553.6,155.2 554.5,155.9 555.9,154.6 557.2,151.6 558.1,150.7 559.0,149.6 560.5,148.0 562.0,148.4 563.3,150.6 564.7,151.9 566.1,149.4 567.6,146.2 569.0,144.5 570.3,144.8 571.8,146.6 572.7,146.1 573.6,145.1 574.6,144.4 575.5,144.1 577.0,142.5 577.9,141.8 578.9,141.2 579.8,141.0 580.7,139.3 582.1,137.9 583.0,138.4 583.9,137.9 584.9,137.7 585.8,138.4 586.7,139.9 587.7,135.2 588.6,129.4 590.1,130.1 591.0,131.2 592.0,133.1 592.9,133.6 593.9,135.0 594.8,134.9 595.7,135.8 596.7,136.1 597.6,136.9 598.5,136.6 599.5,136.8 600.4,137.4 601.3,137.8 602.3,137.7 603.2,137.9 604.5,138.4 605.8,136.7 607.3,134.2 608.8,130.7 609.9,130.5 610.1,130.4 611.6,131.2 612.5,131.5 613.4,132.4 614.4,133.5 615.3,133.9 616.3,135.1 617.2,135.4 618.1,136.3 619.1,138.0 620.0,139.1 620.9,140.3 621.9,140.6 622.8,141.4 623.9,144.7 625.2,149.6 626.6,151.8 627.5,152.9 628.4,154.2 629.4,154.8 630.3,155.9 631.8,158.3 633.3,159.6 634.2,160.3 635.2,160.4 636.5,159.3 637.8,157.2 639.3,156.2 640.8,156.8 642.1,157.7 643.4,158.5 644.9,156.7 645.8,156.2 646.8,155.9 647.7,156.2 648.6,155.3 649.6,155.1 650.5,155.0 651.4,154.9 652.4,154.4 653.3,154.7 654.3,154.6 655.2,154.6 656.1,153.9 657.1,153.8 658.0,153.1 658.9,153.4 659.9,153.4 660.8,152.6 661.7,152.3 662.7,151.9 663.6,151.9 664.5,151.3 665.5,150.9 666.4,150.4 667.4,151.0 668.3,149.6 669.2,148.4 670.2,147.4 671.1,146.6 672.0,146.9 673.0,147.5 673.9,146.6 674.8,145.9 675.8,145.7 676.7,144.6 678.2,143.5 679.1,144.5" stroke="#111" stroke-width="1.4"/>
</g>
<line x1="157.3" y1="29.8" x2="157.3" y2="51.4" stroke="#f0392d" stroke-width="1.3"/>
<line x1="187.0" y1="29.8" x2="187.0" y2="51.4" stroke="#f0392d" stroke-width="1.3"/>
<line x1="246.0" y1="29.8" x2="246.0" y2="51.4" stroke="#f0392d" stroke-width="1.3"/>
<line x1="259.6" y1="29.8" x2="259.6" y2="51.4" stroke="#f0392d" stroke-width="1.3"/>
<line x1="334.4" y1="29.8" x2="334.4" y2="51.4" stroke="#f0392d" stroke-width="1.3"/>
<line x1="362.7" y1="29.8" x2="362.7" y2="51.4" stroke="#f0392d" stroke-width="1.3"/>
<line x1="387.4" y1="29.8" x2="387.4" y2="51.4" stroke="#f0392d" stroke-width="1.3"/>
<line x1="160.2" y1="33.6" x2="184.0" y2="33.6" stroke="#2b6687" stroke-width="1.4"/>
<path d="M158.2,33.6 L162.79999999999998,31.5 L162.79999999999998,35.7 Z" fill="#2b6687"/>
<path d="M186.0,33.6 L181.4,31.5 L181.4,35.7 Z" fill="#2b6687"/>
<line x1="191.2" y1="33.6" x2="242.5" y2="33.6" stroke="#2b6687" stroke-width="1.4"/>
<path d="M189.2,33.6 L193.79999999999998,31.5 L193.79999999999998,35.7 Z" fill="#2b6687"/>
<path d="M244.5,33.6 L239.9,31.5 L239.9,35.7 Z" fill="#2b6687"/>
<line x1="249.0" y1="33.6" x2="256.0" y2="33.6" stroke="#2b6687" stroke-width="1.4"/>
<path d="M247.0,33.6 L251.6,31.5 L251.6,35.7 Z" fill="#2b6687"/>
<path d="M258.0,33.6 L253.4,31.5 L253.4,35.7 Z" fill="#2b6687"/>
<line x1="262.7" y1="33.6" x2="330.0" y2="33.6" stroke="#2b6687" stroke-width="1.4"/>
<path d="M260.7,33.6 L265.3,31.5 L265.3,35.7 Z" fill="#2b6687"/>
<path d="M332.0,33.6 L327.4,31.5 L327.4,35.7 Z" fill="#2b6687"/>
<line x1="337.09999999999997" y1="33.6" x2="359.6" y2="33.6" stroke="#2b6687" stroke-width="1.4"/>
<path d="M335.09999999999997,33.6 L339.7,31.5 L339.7,35.7 Z" fill="#2b6687"/>
<path d="M361.6,33.6 L357.0,31.5 L357.0,35.7 Z" fill="#2b6687"/>
<line x1="365.8" y1="33.6" x2="384.7" y2="33.6" stroke="#2b6687" stroke-width="1.4"/>
<path d="M363.8,33.6 L368.40000000000003,31.5 L368.40000000000003,35.7 Z" fill="#2b6687"/>
<path d="M386.7,33.6 L382.09999999999997,31.5 L382.09999999999997,35.7 Z" fill="#2b6687"/>
<line x1="137.79999999999998" y1="217.4" x2="187.20000000000002" y2="217.4" stroke="#2b6687" stroke-width="1.4"/>
<path d="M135.79999999999998,217.4 L140.39999999999998,215.3 L140.39999999999998,219.5 Z" fill="#2b6687"/>
<path d="M189.20000000000002,217.4 L184.60000000000002,215.3 L184.60000000000002,219.5 Z" fill="#2b6687"/>
<line x1="197.7" y1="217.4" x2="246.60000000000002" y2="217.4" stroke="#2b6687" stroke-width="1.4"/>
<path d="M195.7,217.4 L200.29999999999998,215.3 L200.29999999999998,219.5 Z" fill="#2b6687"/>
<path d="M248.60000000000002,217.4 L244.00000000000003,215.3 L244.00000000000003,219.5 Z" fill="#2b6687"/>
<line x1="259.5" y1="217.4" x2="308.40000000000003" y2="217.4" stroke="#2b6687" stroke-width="1.4"/>
<path d="M257.5,217.4 L262.1,215.3 L262.1,219.5 Z" fill="#2b6687"/>
<path d="M310.40000000000003,217.4 L305.8,215.3 L305.8,219.5 Z" fill="#2b6687"/>
<line x1="149.3" y1="281.4" x2="149.3" y2="313.0" stroke="#f0392d" stroke-width="1.3"/>
<line x1="169.7" y1="281.4" x2="169.7" y2="313.0" stroke="#f0392d" stroke-width="1.3"/>
<line x1="192.4" y1="281.4" x2="192.4" y2="313.0" stroke="#f0392d" stroke-width="1.3"/>
<line x1="211.8" y1="281.4" x2="211.8" y2="313.0" stroke="#f0392d" stroke-width="1.3"/>
<line x1="233.0" y1="281.4" x2="233.0" y2="313.0" stroke="#f0392d" stroke-width="1.3"/>
<line x1="152.2" y1="284.8" x2="166.8" y2="284.8" stroke="#2b6687" stroke-width="1.4"/>
<path d="M150.2,284.8 L154.79999999999998,282.7 L154.79999999999998,286.90000000000003 Z" fill="#2b6687"/>
<path d="M168.8,284.8 L164.20000000000002,282.7 L164.20000000000002,286.90000000000003 Z" fill="#2b6687"/>
<line x1="173.89999999999998" y1="284.8" x2="188.4" y2="284.8" stroke="#2b6687" stroke-width="1.4"/>
<path d="M171.89999999999998,284.8 L176.49999999999997,282.7 L176.49999999999997,286.90000000000003 Z" fill="#2b6687"/>
<path d="M190.4,284.8 L185.8,282.7 L185.8,286.90000000000003 Z" fill="#2b6687"/>
<line x1="195.2" y1="284.8" x2="208.9" y2="284.8" stroke="#2b6687" stroke-width="1.4"/>
<path d="M193.2,284.8 L197.79999999999998,282.7 L197.79999999999998,286.90000000000003 Z" fill="#2b6687"/>
<path d="M210.9,284.8 L206.3,282.7 L206.3,286.90000000000003 Z" fill="#2b6687"/>
<line x1="215.5" y1="284.8" x2="229.4" y2="284.8" stroke="#2b6687" stroke-width="1.4"/>
<path d="M213.5,284.8 L218.1,282.7 L218.1,286.90000000000003 Z" fill="#2b6687"/>
<path d="M231.4,284.8 L226.8,282.7 L226.8,286.90000000000003 Z" fill="#2b6687"/>
<text x="122.9" y="10.6" font-size="13.15" textLength="473.2" lengthAdjust="spacingAndGlyphs" fill="#111">Left and right EOG, ECG data and walking acceleration in a 15-seconds segment</text>
<text x="3.8" y="12.9" font-size="12.9" font-weight="bold" fill="#000" stroke="#000" stroke-width="0.25">A</text>
<text x="4.3" y="105.2" font-size="12.9" font-weight="bold" fill="#000" stroke="#000" stroke-width="0.25">B</text>
<text x="2.3" y="194.1" font-size="12.9" font-weight="bold" fill="#000" stroke="#000" stroke-width="0.25">C</text>
<text x="2.2" y="272.4" font-size="12.9" font-weight="bold" fill="#000" stroke="#000" stroke-width="0.25">D</text>
<text transform="translate(19.0,48.35) rotate(-90)" text-anchor="middle" font-size="9.5" fill="#262626">Left eye [<tspan font-style="italic">&#956;</tspan>V]</text>
<text transform="translate(10.8,140.55) rotate(-90)" text-anchor="middle" font-size="9.5" fill="#262626">Right eye [<tspan font-style="italic">&#956;</tspan>V]</text>
<text transform="translate(9.4,236.1) rotate(-90)" text-anchor="middle" font-size="9.5" fill="#262626">ECG (mV)</text>
<text transform="translate(10.0,349.2) rotate(-90)" font-size="9.75" fill="#262626">Acceleration <tspan font-size="8" dy="-5">m</tspan><tspan dy="5" dx="-0.6">/</tspan><tspan font-size="8" dy="4.5" dx="-0.4">s</tspan><tspan font-size="5.5" dy="-4.85">2</tspan></text>
<text x="357" y="370.6" text-anchor="middle" font-size="9.5" fill="#262626">Time (seconds)</text>
</svg>
</body></html>
